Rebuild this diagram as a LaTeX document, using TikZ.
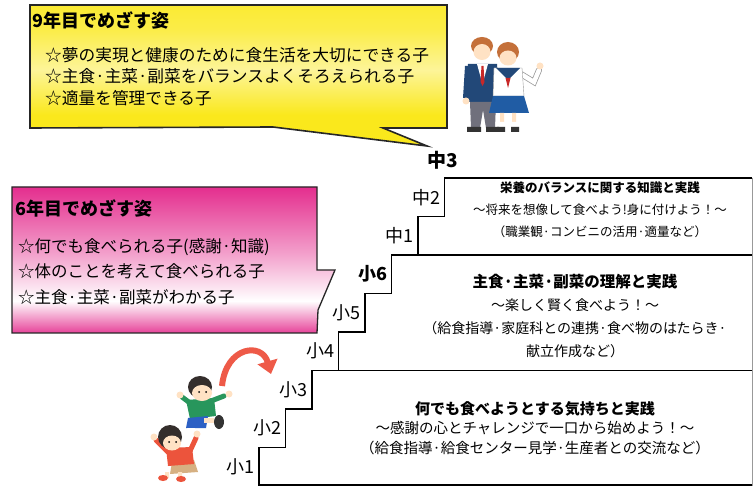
\documentclass[tikz,border=0pt]{standalone}
\usepackage{fontspec}
\setmainfont{Noto Sans CJK JP}
\usetikzlibrary{arrows.meta}
\definecolor{callyel}{RGB}{250,232,28}
\definecolor{callpink}{RGB}{228,46,142}
\definecolor{arrred}{RGB}{238,90,72}
\definecolor{skin}{RGB}{255,226,196}
\definecolor{hairdk}{RGB}{52,46,44}
\definecolor{hairbr}{RGB}{196,112,58}
\definecolor{navy}{RGB}{34,72,120}
\definecolor{pantgray}{RGB}{112,112,124}
\definecolor{skirtblue}{RGB}{32,92,164}
\definecolor{tiered}{RGB}{200,40,40}
\definecolor{kidgreen}{RGB}{40,150,92}
\definecolor{kidblue}{RGB}{44,96,196}
\definecolor{kidred}{RGB}{236,84,60}
\definecolor{beige}{RGB}{214,176,130}
% fades for the two speech boxes (25bp = bottom, 75bp = top of the path)
\pgfdeclareverticalshading{yelfade}{100bp}{color(0bp)=(callyel); color(25bp)=(callyel);
  color(36bp)=(callyel); color(52bp)=(callyel!45); color(66bp)=(callyel!80); color(75bp)=(callyel!90); color(100bp)=(callyel!90)}
\pgfdeclareverticalshading{pinkfade}{100bp}{color(0bp)=(callpink); color(25bp)=(callpink!90);
  color(36bp)=(white); color(52bp)=(callpink!45); color(75bp)=(callpink); color(100bp)=(callpink)}
\tikzset{
  stair/.style={line width=1.6pt},
  callout/.style={draw=black!85,line width=1.6pt},
  grade/.style={anchor=east,inner sep=1pt,font=\fontsize{18}{18}\selectfont},
  goal/.style={anchor=west,inner sep=0pt,align=left},
  plan/.style={inner sep=0pt,align=center}
}

\begin{document}
\begin{tikzpicture}[x=1pt,y=-1pt,line join=miter]
\useasboundingbox (0,0) rectangle (755,486);
\fill[white] (0,0) rectangle (755,486);

% staircase: one riser and tread per school year
\draw[stair] (259,486) \foreach \k in {1,...,8} { -- ++(0,-38.5) -- ++(26.5,0) } -- (752,178);
\draw[stair] (338.5,370.5) -- (752,370.5);
\draw[stair] (418,255) -- (752,255);
\draw[stair] (259,485) -- (752,485);
\draw[black!40,line width=0.8pt] (752,178) -- (752,486);

% year labels on the risers
\foreach \lab [count=\k from 0] in {小1,小2,小3,小4,小5,{\bfseries 小6},中1,中2}
  \node[grade] (g\k) at ({256+26.5*\k},{466.75-38.5*\k}) {\lab};
\node[grade,anchor=south,font=\bfseries\fontsize{19}{19}\selectfont] (g8) at (443,171) {中3};

% what each block is about
\node[plan,font=\fontsize{12.5}{22}\selectfont] (junior) at (600,210)
  {{\bfseries 栄養のバランスに関する知識と実践}\\
   〜将来を想像して食べよう!身に付けよう！〜\\
   （職業観·コンビニの活用·適量など）};
\node[plan,font=\fontsize{14}{22.7}\selectfont] (upper) at (575,316)
  {{\bfseries\fontsize{15.5}{22.7}\selectfont 主食·主菜·副菜の理解と実践}\\
   〜楽しく賢く食べよう！〜\\
   （給食指導·家庭科との連携·食べ物のはたらき·\\
   献立作成など）};
\node[plan,font=\fontsize{14.5}{19.5}\selectfont] (lower) at (535,428)
  {{\bfseries\fontsize{15}{19.5}\selectfont 何でも食べようとする気持ちと実践}\\
   〜感謝の心とチャレンジで一口から始めよう！〜\\
   （給食指導·給食センター見学·生産者との交流など）};

% 9th year box
\coordinate (tip9) at (427,146);
\shadedraw[callout,shading=yelfade] (30,5) -- (447,5) -- (447,128) -- (383,128) -- (tip9)
  -- (273,127) -- (30,128) -- cycle;
\node[goal,font=\bfseries\fontsize{18}{18}\selectfont] (goal9) at (32,20) {9年目でめざす姿};
\node[goal,font=\fontsize{16.7}{21.5}\selectfont] (list9) at (45,76.5)
  {☆夢の実現と健康のために食生活を大切にできる子\\
   ☆主食·主菜·副菜をバランスよくそろえられる子\\
   ☆適量を管理できる子};

% 6th year box
\coordinate (tip6) at (335,270);
\shadedraw[callout,line width=1.3pt,shading=pinkfade] (12,187) -- (317,187) -- (317,270) -- (tip6)
  -- (318,310) -- (317,333) -- (12,333) -- cycle;
\node[goal,font=\bfseries\fontsize{18}{18}\selectfont] (goal6) at (15,208) {6年目でめざす姿};
\node[goal,font=\fontsize{16.5}{25.5}\selectfont] (list6) at (18,271.5)
  {☆何でも食べられる子(感謝·知識)\\
   ☆体のことを考えて食べられる子\\
   ☆主食·主菜·副菜がわかる子};

% jump arrow
\draw[arrred,line width=6pt,-{Triangle[length=13pt,width=20pt]}]
  (222,386) .. controls (226,346) and (262,342) .. (271,374);

% pupils: boy
\fill[kidgreen] (186,400) -- (214,398) -- (216,416) -- (190,419) -- cycle;
\draw[kidgreen,line width=5pt,line cap=round] (190,403) -- (182,397);
\draw[kidgreen,line width=5pt,line cap=round] (211,401) -- (224,396);
\fill[skin] (180,395) circle (3.5) (229,394) circle (3.5);
\fill[kidblue] (188,418) -- (208,416) -- (206,428) -- (186,428) -- cycle;
\fill[skin] (204,418) rectangle (214,423);
\fill[black!80] (219,422) ellipse (5 and 7);
\fill[white] (187,428) -- (195,428) -- (191,436) -- cycle;
\fill[hairdk] (200,387) ellipse (12 and 11);
\fill[skin] (202,393) ellipse (10 and 8);
\fill[black] (199,392) circle (1) (206,392) circle (1);
% pupils: girl
\draw[kidred,line width=5pt,line cap=round] (168,452) -- (156,440);
\draw[kidred,line width=5pt,line cap=round] (190,451) -- (196,438);
\fill[skin] (154,437) circle (3.5) (197,434) circle (3.5);
\fill[beige] (172,462) -- (194,460) -- (198,472) -- (170,474) -- cycle;
\fill[kidred] (166,448) -- (192,447) -- (194,464) -- (168,466) -- cycle;
\fill[skin] (165,472) rectangle (169,478) (178,472) rectangle (182,478);
\fill[kidred] (163,478) ellipse (5 and 3) (181,479) ellipse (5 and 3);
\fill[hairdk] (170,437) ellipse (12 and 12);
\fill[skin] (172,443) ellipse (9 and 7.5);
\fill[black] (169,442) circle (1) (176,442) circle (1);

% students: boy
\fill[hairbr] (482,46) ellipse (11 and 9);
\fill[skin] (482,52) ellipse (8.5 and 8);
\fill[navy] (468,64) -- (497,64) -- (500,102) -- (466,102) -- cycle;
\fill[white] (477,64) -- (488,64) -- (482.5,84) -- cycle;
\fill[tiered] (481.5,66) -- (483.5,66) -- (484.5,82) -- (482.5,86) -- (480.5,82) -- cycle;
\fill[navy] (465,66) -- (470,66) -- (470,98) -- (463,98) -- cycle;
\fill[skin] (466,101) circle (3.5) (500,92) circle (3.5);
\fill[pantgray] (470,102) -- (496,102) -- (495,128) -- (486,128) -- (483,110) -- (480,128) -- (471,128) -- cycle;
\fill[black!80] (467,127) rectangle (481,132) (486,127) rectangle (499,132);
% students: girl
\draw[black!40,line width=6pt,line cap=round] (521,74) -- (534,82) -- (539,70);
\draw[white,line width=4.5pt,line cap=round] (521,74) -- (534,82) -- (539,70);
\fill[skin] (540,66) circle (3.5);
\filldraw[fill=white,draw=black!40] (494,68) -- (522,68) -- (524,96) -- (493,96) -- cycle;
\fill[navy] (496,68) -- (520,68) -- (508,80) -- cycle;
\fill[tiered] (505.5,78) -- (510.5,78) -- (508,88) -- cycle;
\fill[skirtblue] (493,96) -- (524,96) -- (529,113) -- (489,113) -- cycle;
\fill[skin] (500,113) rectangle (504,122) (512,113) rectangle (516,122);
\fill[white] (499.5,122) rectangle (504.5,128) (511.5,122) rectangle (516.5,128);
\fill[black!80] (497,127) rectangle (505,132) (511,127) rectangle (519,132);
\fill[hairbr] (508,52) ellipse (11 and 10);
\fill[skin] (508,58) ellipse (8.5 and 7.5);
\end{tikzpicture}
\end{document}
